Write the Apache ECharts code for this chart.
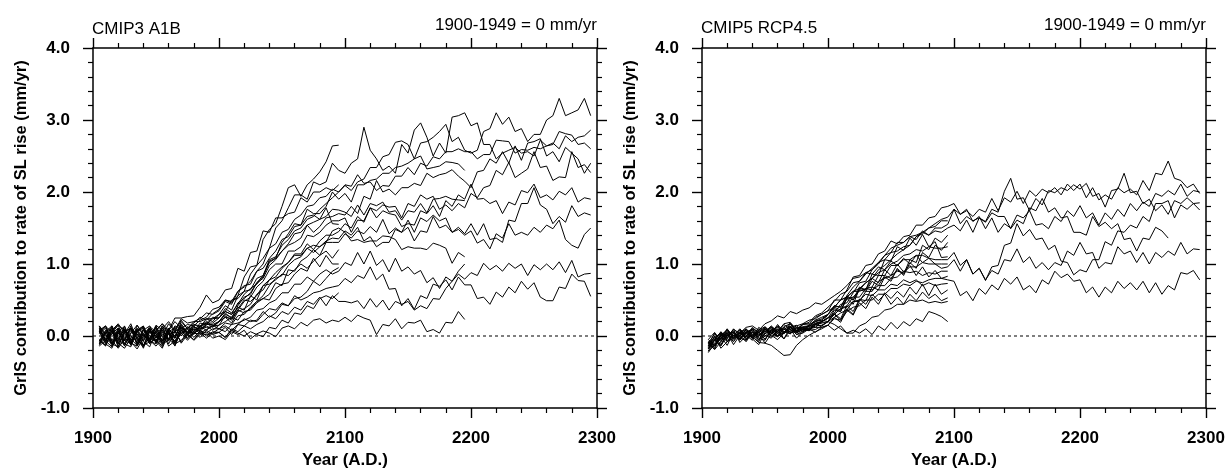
<!DOCTYPE html>
<html>
<head>
<meta charset="utf-8">
<script src="https://cdn.jsdelivr.net/npm/echarts@6/dist/echarts.min.js"></script>
<style>
  html, body { margin: 0; padding: 0; background: #fff; }
  #chart { width: 1228px; height: 470px; }
</style>
</head>
<body>
<div id="chart"></div>
<script>
// every run is sampled every 5 years from 1905, values in 0.01 mm/yr
const START_YEAR = 1905
const STEP = 5
const xTicks = [1900, 2300, 100]
const yTicks = [-1, 4, 1]

// CMIP3 A1B runs (1905-2295, 1905-2195 or 1905-2095)
const a1b01 = [8, 14, -6, -17, -4, 11, 3, -13, -8, 7, 17, 4, -3, 20, 10, 18, 26, 22, 31,
  37, 50, 46, 56, 82, 96, 98, 134, 148, 156, 180, 206, 210, 194, 210, 218, 228, 242, 264, 265]
const a1b02 = [-6, -13, 4, 15, 8, -8, -18, -3, 11, 3, -10, 7, 20, 11, 6, 16, 12, 24, 20,
  30, 34, 50, 52, 62, 86, 98, 108, 122, 150, 160, 178, 196, 196, 190, 214, 210, 214, 240, 230,
  226, 240, 246, 290, 258, 246, 230, 236, 226, 266, 254, 286, 296, 276, 250, 268, 254, 304, 306, 310,
  292, 296, 266, 266, 246, 254, 258, 262, 254, 256, 250, 272, 264, 268, 260, 278, 270, 276, 278, 286]
const a1b03 = [4, 13, 6, -10, -17, -3, 8, 14, -7, -11, 3, -6, 14, 11, 4, 16, 14, 18, 26,
  25, 38, 32, 44, 58, 66, 72, 82, 104, 108, 130, 142, 156, 154, 176, 170, 170, 180, 200, 190,
  198, 186, 210, 210, 216, 218, 226, 226, 234, 236, 240, 246, 268, 270, 276, 284, 294, 270, 276, 258,
  254, 258, 284, 288, 310, 294, 304, 284, 288, 270, 280, 280, 300, 306, 330, 306, 310, 314, 330, 306]
const a1b04 = [-11, -3, 8, 17, 4, -10, -14, 0, 13, 6, -7, 11, -3, 17, 4, 6, 14, 20, 14,
  20, 32, 24, 42, 54, 58, 74, 80, 98, 106, 118, 126, 130, 136, 154, 144, 152, 164, 166, 170,
  168, 180, 170, 194, 190, 216, 200, 204, 196, 206, 206, 212, 209, 226, 220, 224, 226, 231, 222, 215,
  206, 228, 230, 246, 240, 256, 240, 264, 244, 268, 270, 274, 250, 256, 242, 262, 254, 246, 226, 240]
const a1b05 = [14, 3, -11, -15, 6, 11, -4, -13, -3, 15, 8, -6, 0, 13, 2, 10, 4, 9, 14,
  15, 28, 22, 36, 48, 54, 68, 76, 92, 100, 100, 118, 118, 124, 140, 138, 144, 154, 160, 160,
  164, 144, 161, 160, 178, 174, 182, 179, 180, 164, 184, 180, 196, 190, 194, 176, 182, 174, 184, 178,
  198, 192, 206, 209, 230, 224, 241, 220, 226, 232, 256, 234, 236, 216, 221, 220, 256, 234, 238, 227]
const a1b06 = [-8, 6, 14, -3, -13, 4, 15, 3, -10, -4, -15, 6, 11, 0, 13, 8, 12, 18, 12,
  20, 26, 18, 34, 38, 44, 58, 64, 78, 88, 96, 102, 114, 114, 128, 120, 132, 140, 140, 145,
  156, 150, 166, 158, 178, 164, 174, 170, 168, 152, 156, 154, 174, 170, 181, 166, 188, 180, 196, 190,
  211, 190, 191, 184, 188, 170, 186, 182, 202, 199, 211, 192, 196, 189, 201, 196, 206, 186, 192, 190]
const a1b07 = [6, -11, -17, 3, 10, -4, -13, 8, 1, -8, 11, 3, -7, 8, 10, 2, 13, 8, 15,
  10, 18, 16, 28, 30, 40, 48, 56, 70, 80, 84, 98, 106, 110, 122, 126, 124, 132, 136, 135,
  146, 140, 151, 132, 138, 124, 130, 130, 148, 144, 161, 144, 164, 159, 168, 160, 164, 144, 151, 142,
  156, 140, 156, 134, 136, 130, 161, 159, 184, 184, 206, 182, 176, 156, 166, 158, 181, 166, 171, 168]
const a1b08 = [-10, 4, 13, -14, -6, 11, -1, -17, 7, -8, 14, -11, 6, -8, 6, 4, 10, 14, 8,
  15, 20, 26, 22, 34, 36, 46, 52, 58, 74, 70, 92, 90, 104, 110, 120, 112, 130, 130, 130,
  142, 136, 146, 142, 152, 144, 162, 142, 150, 144, 151, 132, 146, 144, 166, 150, 154, 144, 148, 140,
  146, 129, 134, 121, 142, 136, 156, 140, 144, 140, 151, 144, 154, 149, 161, 134, 126, 122, 141, 150]
const a1b09 = [14, -6, 3, 11, -11, -15, 8, 13, -6, -14, -3, 8, -10, 4, 9, -2, 7, 4, 10,
  10, 6, 16, 18, 22, 26, 36, 38, 46, 50, 60, 60, 72, 72, 82, 76, 86, 92, 86, 90,
  102, 98, 116, 100, 118, 98, 106, 89, 108, 90, 96, 86, 91, 74, 81, 66, 82, 76, 86, 79,
  88, 84, 101, 92, 98, 90, 101, 94, 100, 84, 99, 92, 100, 92, 103, 88, 105, 82, 86, 87]
const a1b10 = [-6, -14, 8, -10, 3, 17, -6, -15, 6, -8, 11, -4, -13, 8, -2, 6, -2, 8, 2,
  5, 12, 2, 16, 14, 22, 20, 30, 38, 36, 46, 42, 56, 50, 54, 60, 62, 66, 68, 70,
  80, 74, 84, 80, 96, 78, 86, 65, 66, 42, 52, 37, 56, 52, 72, 69, 78, 64, 82, 71,
  71, 52, 54, 44, 61, 54, 68, 60, 76, 65, 74, 54, 49, 49, 68, 66, 86, 77, 76, 55]
const a1b11 = [11, -7, -15, 6, -11, 8, -3, -14, 10, -7, -17, 4, -11, -6, 3, -6, 2, 6, -3,
  0, -5, 6, 2, 8, -4, 3, 7, 4, -1, 11, 14, 10, 19, 14, 22, 24, 18, 22, 20,
  26, 20, 29, 25, 22, 2, 16, 14, 24, 10, 19, 18, 22, 6, 9, 4, 19, 18, 34, 23]
const a1b12 = [-13, 4, 10, -8, 14, -6, 7, -13, -3, 11, -7, 3, -14, 8, -4, 5, 8, 0, 6,
  5, -2, 10, 6, 14, 10, 16, 20, 28, 24, 34, 30, 40, 36, 48, 44, 54, 42, 56, 48,
  48, 46, 49, 38, 52, 40, 50, 36, 48, 44, 48, 36, 42, 38, 52, 51, 66, 76, 90, 100]
const a1b13 = [6, 14, -10, -3, 8, -11, 15, 0, -7, 13, -1, 17, 6, 22, 10, 20, 20, 24, 24,
  30, 42, 36, 56, 62, 64, 80, 84, 102, 108, 118, 128, 142, 144, 154, 158, 162, 166, 176, 175,
  172, 166, 182, 168, 184, 181, 186, 172, 174, 161, 174, 172, 184, 171, 190, 191, 194, 190, 189, 188]
const a1b14 = [-7, 8, -14, 11, -3, -10, 6, 13, -8, 4, -13, 10, 0, 15, 2, 14, 6, 16, 16,
  20, 30, 26, 40, 36, 56, 50, 70, 78, 82, 94, 102, 112, 112, 122, 116, 124, 130, 146, 150,
  144, 132, 134, 130, 132, 132, 139, 138, 134, 120, 124, 122, 122, 120, 129, 126, 122, 101, 116, 110]
const a1b15 = [10, -8, 7, 15, -6, 11, -11, 8, 14, -3, 10, 20, 8, 24, 18, 20, 24, 32, 30,
  35, 48, 44, 62, 68, 76, 90, 100, 122, 128, 144, 148, 162, 168, 180, 182, 192, 194, 204, 200,
  209, 202, 214, 218, 234, 234, 249, 252, 269, 271, 266, 246, 250, 232, 234, 236, 242, 241, 239, 230]
const a1b16 = [3, 11, -11, 7, -7, 14, -14, 4, 10, -10, 8, -4, 13, 4, 12, 6, 18, 16, 24,
  25, 34, 30, 46, 52, 60, 74, 84, 106, 110, 126, 134, 146, 150, 162, 166, 176, 184, 192, 200,
  210, 208, 224, 212, 214, 202, 209, 208, 222, 222, 234, 224, 240, 236, 249, 246, 256, 256, 260, 256,
  256, 246, 252, 252, 272, 271, 270, 254, 259, 258, 262, 260, 264, 266, 284, 281, 279, 266, 268, 260]
const a1b17 = [7, -10, 14, -6, 10, -13, 6, 11, -4, 8, 17, 8, 25, 25, 27, 28, 40, 57, 46,
  50, 64, 66, 94, 90, 116, 118, 146, 144, 164, 164, 170, 172, 192, 186, 200, 200, 206, 202, 210]
const a1b18 = [-11, 6, -7, 10, -14, 4, 8, -8, -15, 7, -6, 11, -3, 10, 0, 10, 8, 18, 18,
  25, 34, 30, 38, 50, 48, 56, 70, 72, 78, 86, 84, 92, 100, 94, 104, 112, 118, 108, 120]
const a1b19 = [8, -4, -11, 7, 13, -8, 3, -6, 11, -10, 6, -14, -7, 4, -6, 4, 3, 2, 4,
  10, 14, 8, 16, 24, 20, 22, 34, 26, 32, 44, 42, 52, 54, 62, 76, 70, 80, 90, 95]
const a1b20 = [-4, -13, 7, -15, 6, 10, -10, 3, -7, 14, -11, -6, 8, -10, 2, -5, 5, -3, 4,
  5, -2, 8, 4, 0, 6, 2, -1, 12, 10, 22, 18, 32, 30, 42, 38, 52, 56, 52, 60]
const a1b21 = [13, 1, -10, 4, -6, -11, 11, -7, 8, 0, -8, 7, -10, 13, 4, 12, 10, 12, 13,
  20, 26, 24, 36, 32, 38, 48, 52, 50, 66, 72, 74, 86, 94, 90, 108, 96, 112, 100, 100]
const a1b22 = [-14, -6, 11, -11, 7, 0, -8, 10, -11, -1, 14, 3, 6, 11, 16, 14, 22, 26, 37,
  40, 50, 48, 62, 70, 72, 90, 94, 108, 118, 134, 138, 152, 154, 166, 168, 162, 178, 156, 155]

// CMIP5 RCP4.5 runs
const rcp01 = [-18, -6, -14, 1, 6, -5, 9, 3, -8, 10, 3, 16, 5, 12, 15, 5, 16, 20, 22,
  30, 42, 40, 56, 68, 76, 86, 94, 102, 112, 122, 126, 130, 138, 140, 144, 140, 150, 150, 155,
  176, 169, 174, 166, 176, 172, 191, 174, 192, 186, 201, 184, 202, 194, 204, 199, 206, 196, 211, 202,
  211, 192, 206, 189, 196, 190, 206, 199, 204, 196, 216, 202, 226, 224, 243, 219, 216, 206, 211, 198]
const rcp02 = [-23, -10, 1, -8, -3, 8, -6, 10, 6, -5, 8, 13, 3, 17, 7, 10, 15, 12, 20,
  25, 32, 44, 46, 60, 74, 76, 92, 100, 112, 116, 130, 130, 138, 134, 146, 140, 146, 144, 150,
  154, 146, 161, 144, 164, 159, 176, 172, 201, 219, 190, 192, 174, 191, 182, 202, 199, 206, 202, 210,
  204, 212, 194, 198, 179, 202, 204, 226, 199, 201, 184, 190, 174, 182, 169, 188, 184, 192, 184, 185]
const rcp03 = [-10, -19, -8, 3, -8, 4, -1, 10, -3, -6, 10, 4, 13, 17, 5, 16, 15, 22, 26,
  30, 40, 36, 52, 54, 64, 74, 80, 92, 98, 106, 114, 120, 126, 138, 144, 150, 156, 162, 165,
  176, 156, 166, 160, 164, 158, 171, 166, 166, 149, 161, 156, 178, 174, 191, 172, 178, 164, 166, 144,
  144, 140, 166, 152, 158, 149, 156, 134, 136, 118, 136, 134, 151, 146, 136]
const rcp04 = [-14, -1, -17, -8, 4, -5, 6, -4, -12, 5, 12, 0, 5, 14, 4, 9, 9, 16, 14,
  20, 26, 32, 36, 48, 48, 62, 62, 76, 80, 84, 90, 88, 96, 96, 102, 100, 100, 94, 96,
  106, 90, 106, 86, 94, 78, 91, 86, 106, 104, 121, 102, 110, 94, 102, 92, 102, 98, 118, 112,
  130, 114, 116, 94, 102, 100, 124, 114, 118, 102, 116, 100, 116, 109, 118, 112, 130, 114, 121, 120]
const rcp05 = [-21, -5, -1, -13, 5, -1, 10, 1, 3, -10, 3, 10, -4, 12, 2, 4, 10, 12, 12,
  15, 24, 22, 34, 40, 42, 50, 50, 58, 58, 66, 66, 72, 70, 76, 74, 78, 80, 80, 78,
  76, 56, 62, 49, 66, 58, 71, 64, 80, 72, 82, 64, 70, 60, 78, 72, 90, 81, 86, 76,
  78, 60, 68, 54, 68, 60, 76, 66, 74, 64, 76, 60, 74, 58, 70, 64, 88, 86, 91, 78]
const rcp06 = [-9, -16, 3, -4, 9, -9, 0, 6, -6, 12, 4, -1, 10, 3, 12, 7, 14, 17, 20,
  25, 30, 38, 42, 54, 54, 66, 68, 84, 84, 98, 98, 106, 106, 112, 112, 108, 106, 106, 106,
  116, 98, 106, 86, 94, 77, 96, 98, 126, 129, 156, 139, 148, 134, 136, 120, 126, 104, 102, 85,
  92, 89, 106, 106, 131, 126, 146, 144, 154, 150, 166, 159, 184, 184, 188, 164, 182, 176, 184, 175]
const rcp07 = [-5, 5, -8, 9, 0, 4, 10, -3, 12, 6, 14, 6, 17, 19, 7, 17, 22, 24, 30,
  35, 50, 50, 64, 82, 84, 98, 100, 114, 118, 132, 128, 138, 140, 154, 154, 164, 166, 178, 180,
  184, 169, 176, 159, 166, 149, 164, 144, 156, 150, 168, 164, 174, 154, 156, 149, 166, 159, 174, 166,
  181, 164, 171, 154, 171, 162, 176, 166, 184, 174, 186, 180, 198, 194, 202, 196, 211, 194, 202, 200]
const rcp08 = [-8, -14, 4, -3, 10, 1, -8, 5, -1, 9, 1, -5, 4, 10, -3, 6, 10, 5, 12,
  15, 8, 14, 4, 8, 4, 10, 2, 14, 8, 19, 10, 20, 14, 24, 20, 34, 31, 27, 20]
const rcp09 = [-17, -5, -13, 6, 1, -6, 5, 8, -5, 3, 12, 4, -4, 8, 8, 12, 7, 16, 18,
  20, 16, 10, 4, 4, 14, 18, 26, 28, 36, 38, 44, 44, 50, 48, 50, 46, 48, 46, 48]
const rcp10 = [-10, 3, -4, 10, -3, 5, -1, 12, 4, -4, 6, 12, 6, 3, 10, 12, 13, 20, 24,
  30, 42, 40, 56, 50, 64, 62, 76, 70, 84, 80, 92, 86, 106, 102, 126, 120, 136, 130, 140]
const rcp11 = [-14, -6, 6, -8, 0, 10, 1, -6, 8, 1, -3, 8, 10, 5, 6, 11, 11, 18, 20,
  25, 30, 38, 40, 48, 50, 58, 56, 64, 64, 72, 70, 78, 74, 78, 70, 74, 70, 72, 73]
const rcp12 = [-9, -18, 0, 4, -12, 1, 8, -3, 5, 10, -1, 6, 3, 12, 5, 9, 9, 14, 15,
  20, 30, 22, 38, 30, 46, 38, 54, 44, 60, 52, 62, 54, 68, 58, 72, 56, 72, 58, 64]
const rcp13 = [-13, 4, -6, 0, 6, -4, 5, 10, 1, 6, 13, 6, 16, 9, 14, 17, 17, 26, 30,
  35, 40, 50, 54, 62, 66, 74, 80, 88, 92, 100, 104, 112, 114, 120, 118, 124, 122, 122, 124]
const rcp14 = [-21, -13, -3, 5, -6, 4, -3, 1, 10, 3, 8, -1, 5, 13, 2, 7, 8, 9, 14,
  20, 31, 24, 42, 34, 51, 44, 58, 49, 58, 44, 54, 44, 58, 49, 61, 52, 58, 49, 53]
const rcp15 = [-8, -13, 1, 9, -3, 6, 3, -1, 8, 13, 5, 14, 8, 18, 10, 16, 19, 28, 32,
  40, 48, 58, 62, 74, 76, 88, 92, 102, 106, 116, 118, 124, 126, 138, 142, 150, 152, 160, 160]
const rcp16 = [-16, 0, -12, 1, 5, -3, -6, 6, 1, 10, 4, 0, 12, 6, 12, 9, 11, 17, 20,
  25, 38, 34, 54, 50, 68, 64, 80, 74, 92, 84, 100, 89, 98, 84, 96, 82, 91, 80, 83]
const rcp17 = [-10, -3, 5, 0, 9, 4, 12, 14, 8, 17, 21, 28, 25, 34, 31, 36, 39, 46, 44,
  50, 56, 62, 70, 80, 82, 88, 86, 96, 92, 104, 98, 108, 100, 112, 102, 108, 100, 100, 100]
const rcp18 = [-14, -4, 4, -6, 1, -3, 6, -1, -9, -10, -13, -20, -27, -26, -13, -5, 1, 6, 10,
  15, 26, 19, 36, 29, 51, 49, 68, 64, 82, 76, 94, 84, 102, 94, 116, 109, 126, 119, 130]
const rcp19 = [-5, -12, -4, 4, 0, 9, -4, 1, 5, -1, 9, 3, 12, 5, 6, 11, 9, 16, 18,
  30, 40, 50, 54, 62, 62, 66, 64, 70, 70, 80, 82, 90, 88, 90, 84, 88, 86, 90, 90]
const rcp20 = [-18, -6, 0, 8, -4, 1, 4, -3, 6, 12, 4, 9, 5, 13, 7, 13, 13, 22, 22,
  20, 36, 34, 52, 44, 66, 64, 86, 84, 106, 104, 124, 119, 136, 126, 141, 124, 131, 109, 110]

const cmip3Runs = [a1b01, a1b02, a1b03, a1b04, a1b05, a1b06, a1b07, a1b08, a1b09, a1b10, a1b11,
  a1b12, a1b13, a1b14, a1b15, a1b16, a1b17, a1b18, a1b19, a1b20, a1b21, a1b22]
const cmip5Runs = [rcp01, rcp02, rcp03, rcp04, rcp05, rcp06, rcp07, rcp08, rcp09, rcp10,
  rcp11, rcp12, rcp13, rcp14, rcp15, rcp16, rcp17, rcp18, rcp19, rcp20]

const FONT = "'Liberation Sans', Arial, Helvetica, sans-serif"
const panelLeft = [93, 702]

const tickLine = { color: '#000', width: 1.4 }
const minorLine = { color: '#000', width: 1.2 }
const axisLine = { show: true, onZero: false, lineStyle: { color: '#000', width: 1.5 } }

function bottomAxis(g) {
  return {
    type: 'value',
    gridIndex: g,
    position: 'bottom',
    min: xTicks[0],
    max: xTicks[1],
    interval: xTicks[2],
    name: 'Year (A.D.)',
    nameLocation: 'middle',
    nameGap: 36,
    nameTextStyle: { color: '#000', fontSize: 17, fontWeight: 'bold', fontFamily: FONT },
    axisLine: axisLine,
    axisTick: { show: true, length: 10, lineStyle: tickLine },
    minorTick: { show: true, splitNumber: 5, length: 5, lineStyle: minorLine },
    axisLabel: {
      color: '#000', fontSize: 17, fontWeight: 'bold', fontFamily: FONT, margin: 22,
      formatter: function (v) { return String(v) }
    },
    splitLine: { show: false },
    minorSplitLine: { show: false }
  }
}

function topAxis(g) {
  return {
    type: 'value',
    gridIndex: g,
    position: 'top',
    min: xTicks[0],
    max: xTicks[1],
    interval: xTicks[2],
    axisLine: axisLine,
    axisTick: { show: true, length: 10, lineStyle: tickLine },
    minorTick: { show: true, splitNumber: 5, length: 5, lineStyle: minorLine },
    axisLabel: { show: false },
    splitLine: { show: false }
  }
}

function leftAxis(g) {
  return {
    type: 'value',
    gridIndex: g,
    position: 'left',
    min: yTicks[0],
    max: yTicks[1],
    interval: yTicks[2],
    name: 'GrIS contribution to rate of SL rise (mm/yr)',
    nameLocation: 'middle',
    nameGap: 63,
    nameTextStyle: { color: '#000', fontSize: 16.5, fontWeight: 'bold', fontFamily: FONT },
    axisLine: axisLine,
    axisTick: { show: true, length: 10, lineStyle: tickLine },
    minorTick: { show: true, splitNumber: 5, length: 5, lineStyle: minorLine },
    axisLabel: {
      color: '#000', fontSize: 17, fontWeight: 'bold', fontFamily: FONT, margin: 23,
      formatter: function (v) { return v.toFixed(1) }
    },
    splitLine: { show: false }
  }
}

function rightAxis(g) {
  return {
    type: 'value',
    gridIndex: g,
    position: 'right',
    min: yTicks[0],
    max: yTicks[1],
    interval: yTicks[2],
    axisLine: axisLine,
    axisTick: { show: true, length: 10, lineStyle: tickLine },
    minorTick: { show: true, splitNumber: 5, length: 5, lineStyle: minorLine },
    axisLabel: { show: false },
    splitLine: { show: false }
  }
}

function runSeries(runs, g) {
  return runs.map(function (run) {
    return {
      type: 'line',
      xAxisIndex: g * 2,
      yAxisIndex: g * 2,
      symbol: 'none',
      silent: true,
      animation: false,
      z: 3,
      lineStyle: { color: '#000', width: 1 },
      data: run.map(function (v, i) { return [START_YEAR + i * STEP, v / 100] })
    }
  })
}

function zeroLine(g) {
  return {
    type: 'line',
    xAxisIndex: g * 2,
    yAxisIndex: g * 2,
    symbol: 'none',
    silent: true,
    animation: false,
    z: 2,
    lineStyle: { color: '#000', width: 1, type: [3, 3] },
    data: [[xTicks[0], 0], [xTicks[1], 0]]
  }
}

const textStyle = { color: '#000', fontSize: 17, fontWeight: 'normal', fontFamily: FONT }

const option = {
  backgroundColor: '#fff',
  animation: false,
  title: [
    { text: 'CMIP3 A1B', left: 92, top: 21, padding: 0, textStyle: textStyle },
    { text: '1900-1949 = 0 mm/yr', right: 631, top: 17, padding: 0, textStyle: textStyle },
    { text: 'CMIP5 RCP4.5', left: 701, top: 20, padding: 0, textStyle: textStyle },
    { text: '1900-1949 = 0 mm/yr', right: 22, top: 17, padding: 0, textStyle: textStyle }
  ],
  grid: panelLeft.map(function (l) {
    return { left: l, top: 48, width: 504, height: 360, outerBoundsMode: 'none', containLabel: false }
  }),
  xAxis: [bottomAxis(0), topAxis(0), bottomAxis(1), topAxis(1)],
  yAxis: [leftAxis(0), rightAxis(0), leftAxis(1), rightAxis(1)],
  series: [zeroLine(0), zeroLine(1)]
    .concat(runSeries(cmip3Runs, 0))
    .concat(runSeries(cmip5Runs, 1))
}

const chart = echarts.init(document.getElementById('chart'), null, { renderer: 'canvas' })
chart.setOption(option)
</script>
</body>
</html>
